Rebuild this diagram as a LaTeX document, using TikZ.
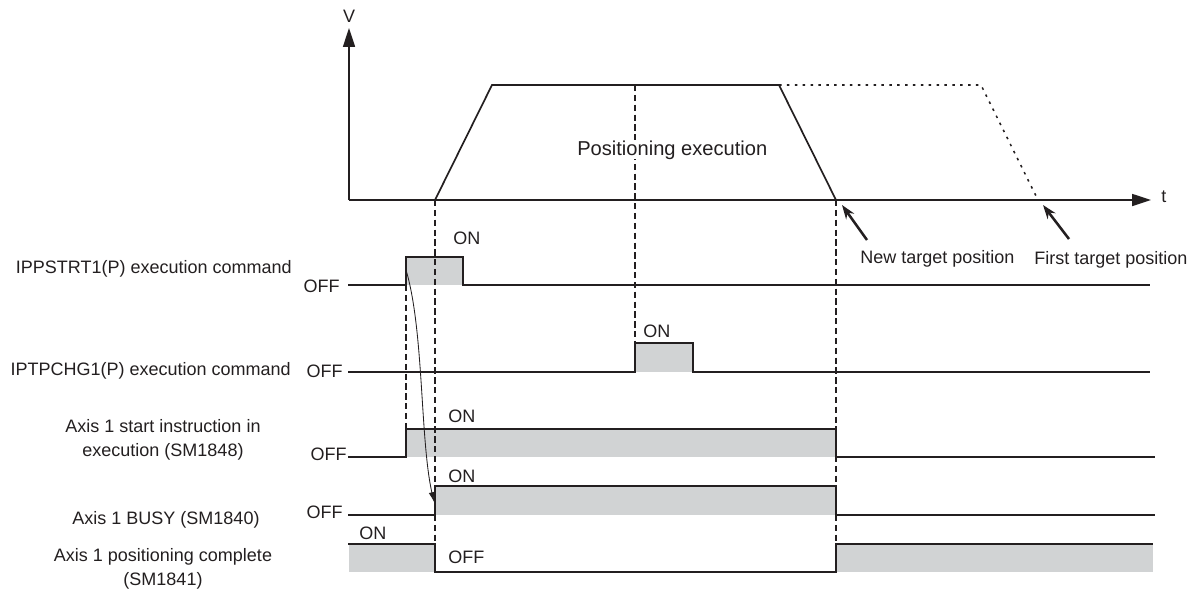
\documentclass[tikz,border=0pt]{standalone}
\usepackage{fontspec}
\setmainfont{Liberation Sans}
\usetikzlibrary{arrows.meta,positioning,calc}
\definecolor{cK}{HTML}{231f20}
\definecolor{cG}{HTML}{d1d3d4}
\tikzset{
  sig/.style={line width=1.2pt,cK},
  guide/.style={line width=.9pt,cK,dash pattern=on 4.5pt off 2.5pt},
  ghost/.style={line width=1.1pt,cK,dash pattern=on 1.8pt off 3.8pt},
  axis/.style={-{Triangle[length=13.5pt,width=8.5pt]},line width=1.3pt,cK},
  pointer/.style={-{Stealth[length=10pt,width=7pt]},line width=1.8pt,cK},
  flow/.style={-{Latex[length=7pt,width=4.5pt]},line width=.6pt,cK},
  lo/.style={fill=cG},
  lbl/.style={inner sep=0pt,cK,font=\fontsize{12.8}{16.4}\selectfont,align=center},
}

\begin{document}
\begin{tikzpicture}[x=.025cm,y=-.025cm]
  \useasboundingbox (0,0) rectangle (1200,593);
  % velocity profile
  \coordinate(O) at (349,200);
  \coordinate(vtop) at (349,28);
  \coordinate(tend) at (1151,200);
  \draw[axis] (O)--(vtop);
  \draw[axis] (O)--(tend);
  \node[lbl,anchor=base](vlab) at (349,22){V};
  \node[lbl,anchor=base west](tlab) at (1161,202){t};
  \draw[sig] (435,200)--(492,85)--(779,85)--(836,200);
  \draw[ghost] (779,85)--(981,85)--(1038,200);
  \coordinate(newtgt) at (842,205);
  \coordinate(newtail) at (867,240);
  \coordinate(firsttgt) at (1043,205);
  \coordinate(firsttail) at (1069,239);
  \draw[pointer] (newtail)--(newtgt);
  \draw[pointer] (firsttail)--(firsttgt);
  \node[lbl,anchor=base west](newlab) at (860,263){New target position};
  \node[lbl,anchor=base west](firstlab) at (1034,264){First target position};
  % signals
  \fill[lo] (406,257) rectangle (463,285);
  \fill[lo] (635,343) rectangle (693,372);
  \fill[lo] (406,429) rectangle (836,457);
  \fill[lo] (435,486) rectangle (836,515);
  \fill[lo] (349,544) rectangle (435,572);
  \fill[lo] (836,544) rectangle (1153,572);
  \foreach \x/\a/\b in {435/200/572,836/200/572,406/285/457,635/85/343}
    \draw[guide] (\x,\a)--(\x,\b);
  \node[lbl,anchor=base west,fill=white,font=\fontsize{14.3}{17}\selectfont](exec) at (577,155){Positioning execution};
  \draw[sig] (348,285)--(406,285)--(406,257)--(463,257)--(463,285)--(1150,285);
  \draw[sig] (348,372)--(635,372)--(635,343)--(693,343)--(693,372)--(1150,372);
  \draw[sig] (348,457)--(406,457)--(406,429)--(836,429)--(836,457)--(1155,457);
  \draw[sig] (348,515)--(435,515)--(435,486)--(836,486)--(836,515)--(1155,515);
  \draw[sig] (348,544)--(435,544)--(435,572)--(836,572)--(836,544)--(1153,544);
  \coordinate(startedge) at (406,270);
  \coordinate(busyedge) at (434,502);
  \draw[flow] (startedge) .. controls (424,330) and (420,440) .. (busyedge);
  % labels
  \node[lbl,anchor=base east](cmd1) at (292,273){IPPSTRT1(P) execution command};
  \node[lbl,anchor=base east](cmd2) at (291,375){IPTPCHG1(P) execution command};
  \node[lbl,anchor=base](sm1848) at (163,456){Axis 1 start instruction in\\execution (SM1848)};
  \node[lbl,anchor=base](sm1840) at (166,524){Axis 1 BUSY (SM1840)};
  \node[lbl,anchor=base](sm1841) at (163,585){Axis 1 positioning complete\\(SM1841)};
  \foreach \x/\y/\t in {340/292/OFF,343/377/OFF,347/460/OFF,343/518/OFF}
    \node[lbl,anchor=base east] at (\x,\y){\t};
  \foreach \x/\y/\t in {453/244/ON,643/337/ON,448/422/ON,448/482/ON,359/539/ON,448/563/OFF}
    \node[lbl,anchor=base west] at (\x,\y){\t};
\end{tikzpicture}
\end{document}
